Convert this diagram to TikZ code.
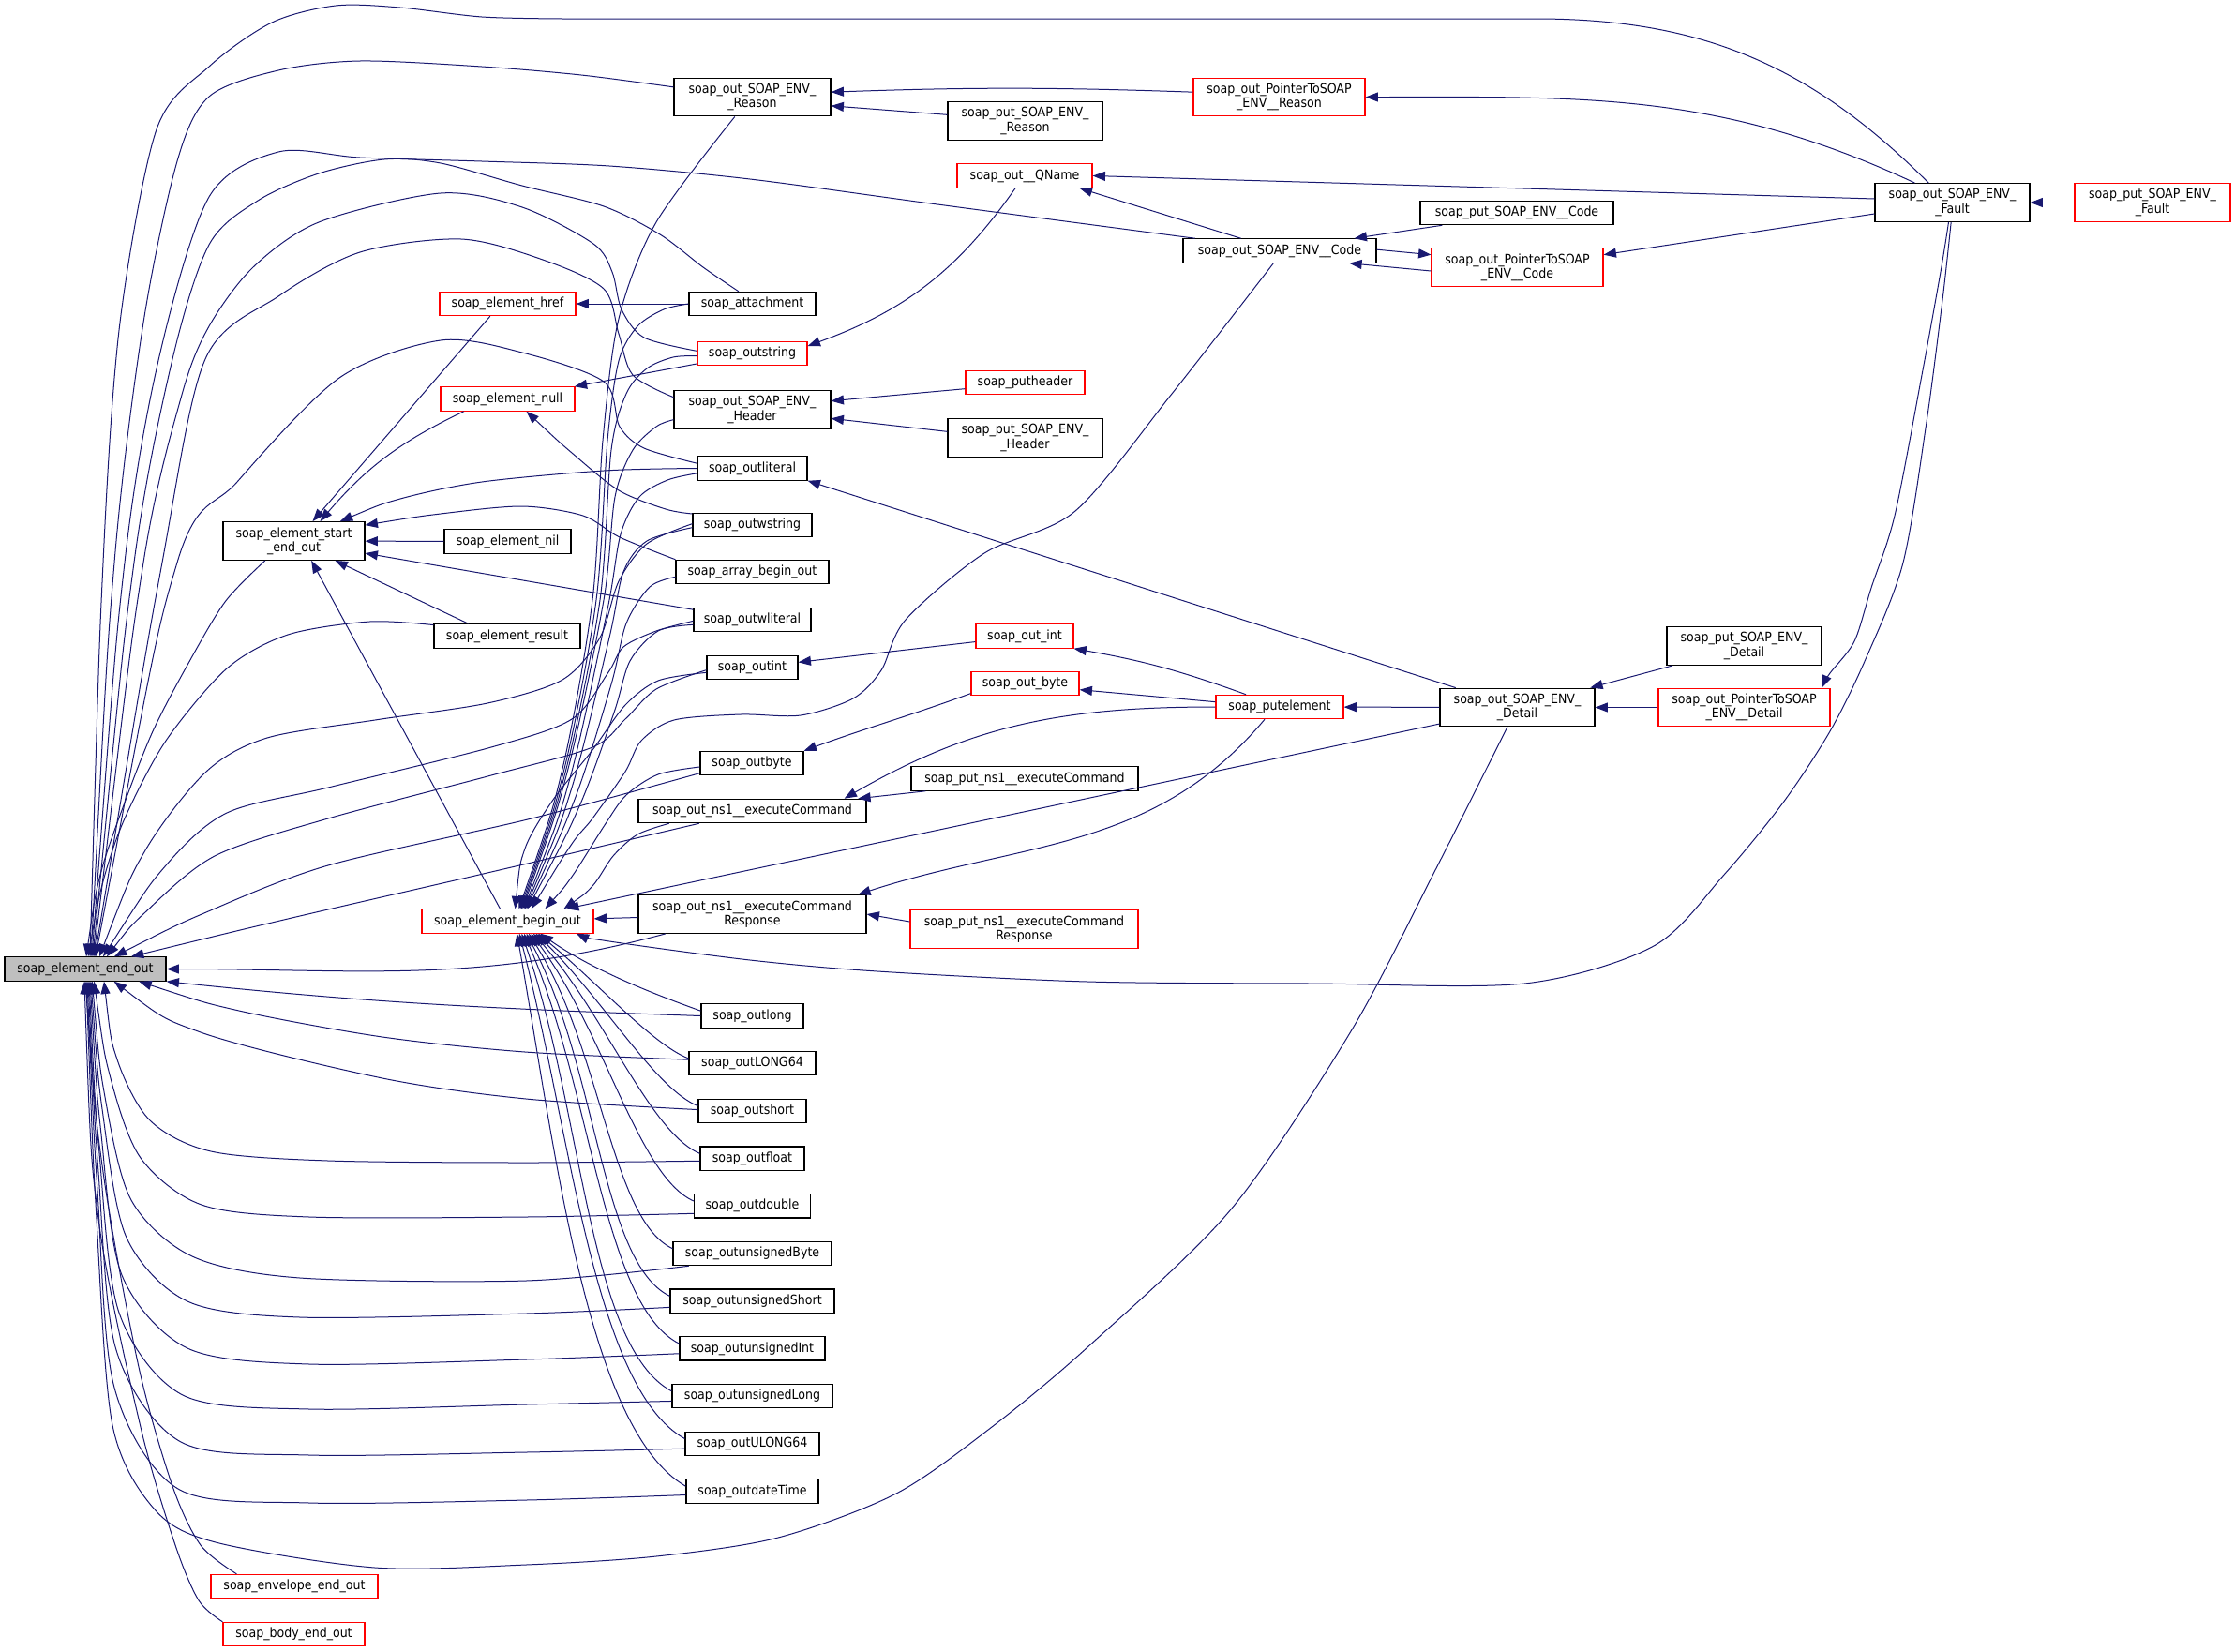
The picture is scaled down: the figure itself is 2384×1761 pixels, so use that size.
\documentclass[tikz,border=0pt]{standalone}
\usepackage{fontspec}
\setmainfont{DejaVu Sans Condensed}
\usetikzlibrary{arrows.meta}

\definecolor{edgeblue}{HTML}{191970}
\definecolor{callergray}{HTML}{BFBFBF}

\begin{document}
\begin{tikzpicture}[
    x=0.75pt, y=-0.75pt,
    fn/.style={draw=black, fill=white, line width=0.9pt, inner sep=0pt,
      minimum height=19pt, align=center,
      font=\fontsize{10.5}{11.5}\selectfont},
    redfn/.style={fn, draw=red},
    twoline/.style={minimum height=30.5pt},
    bw/.style={minimum width=#1pt},
    call/.style={draw=edgeblue, line width=0.75pt,
      {Triangle[length=10pt, width=7.5pt]}-},
    via/.style={smooth, tension=0.5}]

    \useasboundingbox (0, 0) rectangle (2384, 1761);

    \node [fn, fill=callergray, bw=129] (endout) at (91, 1033.5) {soap\_element\_end\_out};
    \node [fn, twoline, bw=113.25] (startend) at (313.5, 577) {soap\_element\_start\\\_end\_out};
    \node [redfn, bw=137.25] (beginout) at (541.5, 982.5) {soap\_element\_begin\_out};
    \node [redfn, bw=108.75] (elhref) at (541.5, 324) {soap\_element\_href};
    \node [redfn, bw=107.25] (elnull) at (541.5, 425.5) {soap\_element\_null};
    \node [fn, bw=101.25] (elnil) at (541.5, 577.5) {soap\_element\_nil};
    \node [fn, bw=117] (elresult) at (541, 678.5) {soap\_element\_result};
    \node [redfn, bw=133.5] (envelope) at (314, 1692) {soap\_envelope\_end\_out};
    \node [redfn, bw=113.25] (body) at (313.5, 1743) {soap\_body\_end\_out};

    \node [fn, twoline, bw=125.25] (reason) at (802.5, 103.5) {soap\_out\_SOAP\_ENV\_\\\_Reason};
    \node [fn, bw=101.25] (attach) at (802.5, 324) {soap\_attachment};
    \node [redfn, bw=87.75] (outstring) at (802.5, 377) {soap\_outstring};
    \node [fn, twoline, bw=125.25] (header) at (802.5, 437) {soap\_out\_SOAP\_ENV\_\\\_Header};
    \node [fn, bw=87.75] (outliteral) at (802.5, 499.5) {soap\_outliteral};
    \node [fn, bw=95.25] (outwstring) at (802.5, 560) {soap\_outwstring};
    \node [fn, bw=122.25] (arraybegin) at (802.5, 610) {soap\_array\_begin\_out};
    \node [fn, bw=93.75] (outwliteral) at (802.5, 661) {soap\_outwliteral};
    \node [fn, bw=72.75] (outint) at (802.5, 712) {soap\_outint};
    \node [fn, bw=82.5] (outbyte) at (802, 814) {soap\_outbyte};
    \node [fn, bw=182.25] (exec) at (802.5, 865) {soap\_out\_ns1\_\_executeCommand};
    \node [fn, twoline, bw=182.25] (execresp) at (802.5, 975) {soap\_out\_ns1\_\_executeCommand\\Response};

    \foreach \nm/\txt/\w [count=\i from 0] in {
        outlong/{soap\_outlong}/81.75,
        outLONG64/{soap\_outLONG64}/101.25,
        outshort/{soap\_outshort}/86.25,
        outfloat/{soap\_outfloat}/83.25,
        outdouble/{soap\_outdouble}/93,
        outunsignedByte/{soap\_outunsignedByte}/126.75,
        outunsignedShort/{soap\_outunsignedShort}/131.25,
        outunsignedInt/{soap\_outunsignedInt}/116.25,
        outunsignedLong/{soap\_outunsignedLong}/128.25,
        outULONG64/{soap\_outULONG64}/107.25,
        outdateTime/{soap\_outdateTime}/105.75} {
      \pgfmathsetmacro{\y}{1083.5+50.7*\i}
      \node [fn, bw=\w] (\nm) at (802.5, \y) {\txt};
    }

    \node [fn, twoline, bw=123.75] (putreason) at (1093.5, 129) {soap\_put\_SOAP\_ENV\_\\\_Reason};
    \node [redfn, bw=108] (qname) at (1093, 187.5) {soap\_out\_\_QName};
    \node [redfn, bw=95.25] (putheader) at (1093.5, 408) {soap\_putheader};
    \node [fn, twoline, bw=123.75] (putheaderenv) at (1093.5, 467) {soap\_put\_SOAP\_ENV\_\\\_Header};
    \node [redfn, bw=78] (outintx) at (1093, 678.5) {soap\_out\_int};
    \node [redfn, bw=86.25] (outbytex) at (1093.5, 729) {soap\_out\_byte};
    \node [fn, bw=181.5] (putexec) at (1093, 830.5) {soap\_put\_ns1\_\_executeCommand};
    \node [redfn, twoline, bw=182.25] (putexecresp) at (1092.5, 991) {soap\_put\_ns1\_\_executeCommand\\Response};

    \node [redfn, twoline, bw=137.25] (ptrreason) at (1364.5, 103.5) {soap\_out\_PointerToSOAP\\\_ENV\_\_Reason};
    \node [fn, bw=154.5] (code) at (1365, 267.5) {soap\_out\_SOAP\_ENV\_\_Code};
    \node [redfn, bw=102] (putelement) at (1365, 754) {soap\_putelement};
    \node [fn, bw=154.5] (putcode) at (1618, 227) {soap\_put\_SOAP\_ENV\_\_Code};
    \node [redfn, twoline, bw=137.25] (ptrcode) at (1618.5, 285) {soap\_out\_PointerToSOAP\\\_ENV\_\_Code};
    \node [fn, twoline, bw=123.75] (detail) at (1618.5, 754.5) {soap\_out\_SOAP\_ENV\_\\\_Detail};
    \node [fn, twoline, bw=123.75] (putdetail) at (1860.5, 689) {soap\_put\_SOAP\_ENV\_\\\_Detail};
    \node [redfn, twoline, bw=137.25] (ptrdetail) at (1860.5, 754.5) {soap\_out\_PointerToSOAP\\\_ENV\_\_Detail};
    \node [fn, twoline, bw=123.75] (fault) at (2082.5, 216) {soap\_out\_SOAP\_ENV\_\\\_Fault};
    \node [redfn, twoline, bw=124.5] (putfault) at (2296, 216) {soap\_put\_SOAP\_ENV\_\\\_Fault};

    \draw [call] plot [via] coordinates {([xshift=3.75pt]endout.north) (110,600) (128,344) (167,138) (223,71) (290,24) (358,6) (427,8) (514,18) (600,20)}
      -- (1638,20) to [out=0, in=135] ([xshift=-19pt]fault.north);
    \draw [call] plot [via] coordinates {([xshift=4.5pt]endout.north) (122,600) (153,344) (189,172) (223,103) (297,75) (384,65) (514,71) (620,80) ([yshift=8pt]reason.west)};
    \draw [call] plot [via] coordinates {([xshift=5.25pt]endout.north) (133,600) (170,380) (223,210) (297,162) (384,168) (514,172) (650,177) (800,191) (1000,218) ([xshift=10pt]code.north west)};
    \draw [call] plot [via] coordinates {([xshift=6pt]endout.north) (143,600) (184,383) (223,261) (275,214) (340,185) (410,170) (470,174) (557,198) (644,220) (704,250) (750,285) ([xshift=-11pt]attach.north)};
    \draw [call] plot [via] coordinates {([xshift=6.75pt]endout.north) (153,600) (194,421) (223,348) (270,285) (340,237) (470,206) (557,221) (633,260) (653,290) (663,330) (687,360) ([yshift=2pt]outstring.west)};
    \draw [call] plot [via] coordinates {([xshift=7.5pt]endout.north) (173,600) (219,383) (297,316) (384,269) (492,255) (579,277) (644,308) (660,356) (675,400) ([yshift=10pt]header.west)};
    \draw [call] plot [via] coordinates {([xshift=8.25pt]endout.north) (189,600) (253,514) (362,403) (470,363) (557,376) (644,407) (661,455) (687,478) ([yshift=4pt]outliteral.west)};
    \draw [call] plot [via] coordinates {([xshift=11.25pt]endout.north) (155,907) (220,823) (285,787) (400,768) (520,750) (600,725) (640,680) (660,620) (690,580) ([yshift=1pt]outwstring.west)};
    \draw [call] plot [via] coordinates {([xshift=14.25pt]endout.north) (177,923) (242,867) (350,840) (524,797) (610,767) (649,717) (665,690) (700,673) ([yshift=-1pt]outwliteral.west)};
    \draw [call] plot [via] coordinates {([xshift=17.25pt]endout.north) (155,973) (229,913) (350,873) (524,827) (632,797) (667,767) (700,735) ([yshift=-2pt]outint.west)};
    \draw [call] plot [via] coordinates {([xshift=2.25pt]endout.north) (110,940) (133,873) (177,790) (242,713) (307,677) (394,663) ([yshift=-1pt]elresult.north west)};
    \draw [call] plot [via] coordinates {([xshift=0.75pt]endout.north) (107,933) (133,856) (163,780) (199,711) (240,642) ([xshift=-23pt]startend.south)};
    \draw [call] plot [via] coordinates {([xshift=23.25pt]endout.north) (220,973) (350,923) (567,873) ([yshift=-8pt]outbyte.west)};
    \draw [call] plot [via] coordinates {([xshift=36.75pt]endout.north) (307,980) (524,930) ([xshift=49pt]exec.south west)};
    \draw [call] (endout.east) to [out=0, in=195] ([xshift=22pt]execresp.south west);

    \draw [call] (endout.south east) to [out=-6, in=178] (outlong.west);
    \draw [call] plot [via] coordinates {([xshift=43pt]endout.south) (255,1078) (408,1106) (560,1122) ([yshift=3pt]outLONG64.west)};
    \draw [call] plot [via] coordinates {([xshift=23pt]endout.south) (214,1101) (408,1150) (561,1172) ([yshift=1pt]outshort.west)};
    \draw [call] plot [via] coordinates {([xshift=15pt]endout.south) (125,1130) (160,1195) (225,1228) (350,1238) (561,1240) ([yshift=-2pt]outfloat.west)};
    \draw [call] plot [via] coordinates {([xshift=7pt]endout.south) (118,1150) (150,1235) (215,1285) (330,1298) (561,1298) ([yshift=-6pt]outdouble.west)};
    \draw [call] plot [via] coordinates {([xshift=5.5pt]endout.south) (112,1170) (140,1280) (205,1340) (320,1363) (561,1366) ([xshift=13pt]outunsignedByte.south west)};
    \draw [call] plot [via] coordinates {([xshift=4.5pt]endout.south) (110,1190) (135,1320) (200,1388) (320,1405) (561,1401) ([yshift=-5pt]outunsignedShort.west)};
    \draw [call] plot [via] coordinates {([xshift=3.75pt]endout.south) (108,1210) (130,1360) (200,1438) (330,1455) (561,1450) ([yshift=-4pt]outunsignedInt.west)};
    \draw [call] plot [via] coordinates {([xshift=3pt]endout.south) (106,1230) (127,1400) (195,1488) (330,1503) (561,1498) ([yshift=-4pt]outunsignedLong.west)};
    \draw [call] plot [via] coordinates {([xshift=2.25pt]endout.south) (105,1250) (124,1440) (193,1538) (330,1552) (561,1549) ([yshift=-4pt]outULONG64.west)};
    \draw [call] plot [via] coordinates {([xshift=1.5pt]endout.south) (104,1270) (122,1480) (190,1588) (330,1603) (561,1600) ([yshift=-3pt]outdateTime.west)};
    \draw [call] plot [via] coordinates {([xshift=0.75pt]endout.south) (103,1300) (120,1520) (165,1610) (230,1645) (400,1672) (561,1669) (700,1660) (830,1640) (956,1593) (1058,1522) (1160,1437) (1313,1290) (1441,1100) (1530,930) ([xshift=-8pt]detail.south)};
    \draw [call] plot [via] coordinates {(endout.south) (110,1250) (148,1458) (184,1585) (214,1648) ([xshift=21pt]envelope.north west)};
    \draw [call] plot [via] coordinates {([xshift=-0.75pt]endout.south) (105,1300) (150,1522) (187,1648) (212,1707) (body.north west)};

    \foreach \nm [count=\i from 0] in {outlong, outLONG64, outshort, outfloat, outdouble,
        outunsignedByte, outunsignedShort, outunsignedInt, outunsignedLong, outULONG64, outdateTime} {
      \pgfmathsetmacro{\sx}{(35-2.5*\i)*0.75}
      \pgfmathsetmacro{\ang}{-35-4.5*\i}
      \pgfmathsetmacro{\inang}{160-\i}
      \draw [call] ([xshift=\sx pt]beginout.south) to [out=\ang, in=\inang, in looseness=0.5] ([yshift=4pt]\nm.west);
    }

    \draw [call] plot [via] coordinates {([xshift=9pt]beginout.north) (600,820) (632,640) (643,470) (660,340) (700,237) ([xshift=-14pt]reason.south)};
    \draw [call] plot [via] coordinates {([xshift=10pt]beginout.north) (602,820) (636,640) (648,470) (660,385) (680,348) (708,330) (attach.west)};
    \draw [call] plot [via] coordinates {([xshift=11pt]beginout.north) (604,820) (640,640) (652,480) (668,420) (690,393) (718,381) ([yshift=-2pt]outstring.west)};
    \draw [call] plot [via] coordinates {([xshift=12pt]beginout.north) (606,820) (644,640) (656,530) (675,480) (700,455) ([yshift=-8pt]header.west)};
    \draw [call] plot [via] coordinates {([xshift=13pt]beginout.north) (608,830) (648,650) (662,570) (682,530) (712,512) ([yshift=-4pt]outliteral.west)};
    \draw [call] plot [via] coordinates {([xshift=14pt]beginout.north) (610,840) (650,680) (665,610) (690,577) ([yshift=-2pt]outwstring.west)};
    \draw [call] plot [via] coordinates {([xshift=15pt]beginout.north) (614,850) (652,730) (668,665) (693,626) ([yshift=-4pt]arraybegin.west)};
    \draw [call] plot [via] coordinates {([xshift=16pt]beginout.north) (618,860) (655,760) (672,705) (702,673) ([yshift=-4pt]outwliteral.west)};
    \draw [call] plot [via] coordinates {([xshift=6pt]beginout.north) (560,905) (590,853) (632,800) (667,752) (702,726) ([yshift=-4pt]outint.west)};
    \draw [call] plot [via] coordinates {([xshift=30pt]beginout.north) (610,935) (645,880) (668,848) (702,826) ([yshift=-3pt]outbyte.west)};
    \draw [call] plot [via] coordinates {([xshift=45pt]beginout.north) (632,945) (654,913) (680,890) ([xshift=25pt]exec.south west)};
    \draw [call] plot [via] coordinates {([xshift=19pt]beginout.north) (610,900) (632,873) (667,823) (684,790) (719,768) (790,762) (854,763) (910,745) (940,715) (966,661) (1050,590) (1147,545) (1250,420) ([xshift=-5pt]code.south)};
    \draw [call] (beginout) -- (detail);
    \draw [call] (beginout) -- (execresp);
    \draw [call] plot [via] coordinates {([xshift=55pt]beginout.south) (650,1004) (800,1024) (936,1036) (1160,1047) (1400,1049) (1626,1049) (1764,1009) (1839,933) (1902,856) (1952,780) (1990,703) (2030,600) (2055,450) (2072,320) ([xshift=-1pt]fault.south)};

    \draw [call] ([xshift=15pt]startend.north) -- ([xshift=-14pt]elhref.south);
    \draw [call] ([xshift=21pt]startend.north) to [bend left=12] ([xshift=-35pt]elnull.south);
    \draw [call] (startend) -- (elnil);
    \draw [call] ([xshift=33pt]startend.south) -- ([xshift=-31pt]elresult.north);
    \draw [call] plot [via] coordinates {([xshift=37pt]startend.north) (427,532) (514,514) (644,502) (outliteral.west)};
    \draw [call] plot [via] coordinates {([yshift=-3pt]startend.north east) (470,548) (557,540) (622,550) (661,573) (arraybegin.north west)};
    \draw [call] (startend) -- (outwliteral);
    \draw [call] ([xshift=14pt]startend.south) -- ([xshift=-6pt]beginout.north);

    \draw [call] (elhref) -- (attach);
    \draw [call] (elnull) -- (outstring);
    \draw [call] plot [via] coordinates {([xshift=15pt]elnull.south) (610,483) (660,523) (710,543) ([yshift=9pt]outwstring.west)};
    \draw [call] ([yshift=6pt]outstring.east) to [out=20, in=-125] ([xshift=-7.5pt]qname.south);

    \draw [call] ([yshift=4pt]reason.east) to [bend left=2] ([yshift=4pt]ptrreason.west);
    \draw [call] ([yshift=-7pt]reason.east) -- ([yshift=5pt]putreason.west);
    \draw [call] (ptrreason) to [out=0, in=155] ([xshift=-30pt]fault.north);
    \draw [call] (qname.east) -- ([yshift=3pt]fault.west);
    \draw [call] ([xshift=44pt]qname.south) -- ([xshift=-31pt]code.north);
    \draw [call] ([xshift=-18pt]code.north east) -- ([xshift=18pt]putcode.south west);
    \draw [call] ([yshift=10pt]ptrcode.west) -- ([yshift=1pt]code.east);
    \draw [call] ([xshift=-22pt]code.south east) -- ([yshift=-3pt]ptrcode.west);
    \draw [call] ([yshift=10pt]ptrcode.east) -- ([yshift=-9pt]fault.west);
    \draw [call] (fault) -- (putfault);

    \draw [call] ([yshift=7pt]header.east) -- ([yshift=-5pt]putheader.west);
    \draw [call] ([yshift=-7pt]header.east) -- ([yshift=5pt]putheaderenv.west);
    \draw [call] (outliteral.south east) -- ([xshift=13pt]detail.north west);
    \draw [call] (outint) -- (outintx);
    \draw [call] (outintx.south east) to [bend left=5] ([xshift=-27pt]putelement.north);
    \draw [call] (outbyte.north east) to [out=20, in=200] ([yshift=-8pt]outbytex.west);
    \draw [call] ([yshift=-5pt]outbytex.east) -- ([yshift=4pt]putelement.west);
    \draw [call] ([xshift=-18pt]exec.north east) to [out=30, in=180] (putelement.west);
    \draw [call] ([xshift=-7pt]exec.north east) -- ([xshift=12pt]putexec.south west);
    \draw [call] ([xshift=-7pt]execresp.north east) to [out=18, in=-130] ([xshift=-12pt]putelement.south);
    \draw [call] (execresp.east) -- ([yshift=6pt]putexecresp.west);
    \draw [call] (putelement) -- (detail);
    \draw [call] ([xshift=-4pt]detail.north east) -- ([xshift=5pt]putdetail.south west);
    \draw [call] (detail) -- (ptrdetail);
    \draw [call] plot [via] coordinates {([xshift=-7pt]ptrdetail.north east) (1952,718) (1978,684) (1996,627) (2021,550) (2050,400) (2070,290) ([xshift=-3pt]fault.south)};

  \end{tikzpicture}
\end{document}
